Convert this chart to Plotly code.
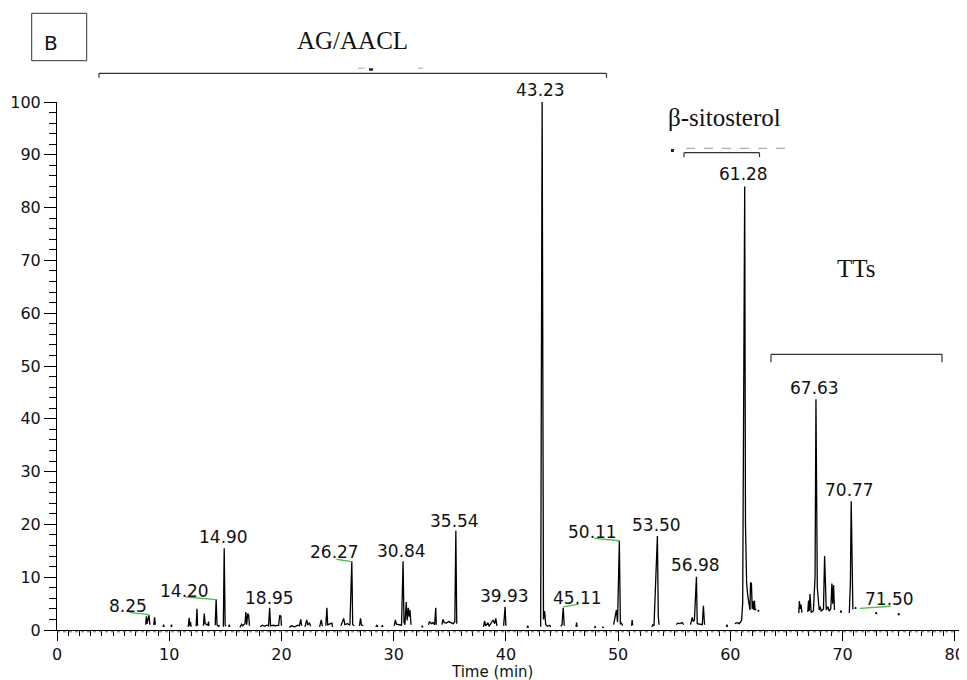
import plotly.graph_objects as go

# ---------------- data ----------------
rt_min = [
    7.90, 7.97, 8.03, 8.10, 8.20, 8.28, None,
    8.62, 8.70, 8.76, None,
    9.45, 9.50, 9.55, None,
    10.15, 10.20, 10.25, None,
    11.70, 11.78, 11.85, 11.90, 11.95, None,
    12.40, 12.47, 12.53, None,
    13.05, 13.12, 13.20, 13.45, 13.50, 13.55, None,
    14.10, 14.18, 14.26, 14.40, 14.50, None,
    14.82, 14.90, 14.98, 15.05, None,
    15.30, 15.35, 15.40, None,
    16.30, 16.45, 16.55, 16.75, 16.83, 16.90, 17.00, 17.08, 17.15, None,
    18.10, 18.30, 18.50, 18.70, 18.85, 18.95, 19.03, 19.30, 19.50, 19.75, 19.85, 19.95, 20.00, None,
    20.70, 20.90, 21.20, 21.45, 21.60, 21.72, 21.80, None,
    22.10, 22.25, 22.35, 22.50, 22.60, None,
    23.40, 23.55, 23.65, None,
    23.95, 24.05, 24.12, 24.50, 24.55, None,
    25.30, 25.45, 25.55, 25.65, 25.90, 26.10, 26.27, 26.35, 26.50, None,
    26.95, 27.05, 27.12, 27.30, None,
    28.40, 28.50, 28.60, None,
    28.90, 29.00, 29.05, None,
    30.05, 30.15, 30.25, 30.40, 30.70, 30.84, 30.92, 31.00, 31.12, 31.20, 31.30, 31.38, 31.45, 31.55, None,
    32.50, 32.55, 32.60, None,
    33.10, 33.20, 33.35, 33.50, 33.65, 33.75, 33.80, None,
    34.30, 34.40, 34.50, 34.70, 34.90, 35.10, 35.30, 35.45, 35.54, 35.62, None,
    38.00, 38.10, 38.20, 38.40, 38.50, 38.70, 38.85, 39.00, 39.10, 39.20, None,
    39.80, 39.93, 40.00, None,
    41.90, 41.95, 42.00, None,
    43.10, 43.23, 43.35, 43.45, 43.55, 43.70, 43.90, 44.00, None,
    44.90, 45.00, 45.11, 45.20, None,
    46.25, 46.30, 46.35, None,
    47.90, 47.95, 48.00, None,
    48.60, 48.65, 48.70, None,
    49.60, 49.75, 49.85, 49.95, 50.11, 50.20, 50.30, 50.40, None,
    51.20, 51.25, 51.30, None,
    53.00, 53.10, 53.20, 53.50, 53.58, 53.65, None,
    55.20, 55.30, 55.50, 55.70, 55.85, None,
    56.45, 56.60, 56.70, 56.80, 56.98, 57.05, 57.50, 57.60, 57.70, None,
    59.65, 59.70, 59.75, None,
    60.40, 60.60, 60.80, 61.00, 61.10, 61.18, 61.22, 61.28, 61.35, 61.45, 61.55, 61.65, 61.75, 61.80, 61.88, 61.95, 62.00, 62.08, 62.15, 62.20, 62.30, None,
    62.45, 62.50, 62.55, None,
    66.10, 66.15, 66.22, 66.30, 66.38, None,
    66.90, 66.97, 67.03, 67.10, 67.20, 67.40, 67.55, 67.63, 67.75, 67.85, 67.92, 68.00, 68.10, 68.20, 68.30, 68.40, 68.48, 68.55, 68.70, 68.80, 68.95, 69.05, 69.12, 69.20, 69.28, None,
    69.80, 69.85, 69.90, None,
    70.60, 70.70, 70.77, 70.85, 70.92, None,
    71.12, 71.16, 71.20, None,
    72.95, 73.00, 73.05, None,
    74.95, 75.00, 75.05,
]

rel_abundance = [
    1.0, 2.6, 1.2, 1.8, 2.8, 1.0, None,
    0.9, 2.4, 1.0, None,
    0.6, 1.0, 0.6, None,
    0.6, 1.0, 0.6, None,
    0.6, 2.3, 0.8, 1.5, 0.6, None,
    0.7, 4.0, 0.8, None,
    0.8, 3.1, 1.2, 0.9, 1.6, 0.8, None,
    0.9, 5.8, 1.0, 0.7, 0.9, None,
    0.6, 15.5, 1.0, 0.7, None,
    0.6, 1.0, 0.6, None,
    0.5, 1.1, 0.8, 1.2, 3.4, 1.0, 3.1, 2.8, 0.8, None,
    0.6, 0.9, 0.7, 0.9, 0.8, 4.2, 0.8, 0.9, 0.8, 0.9, 2.8, 2.6, 0.8, None,
    0.5, 0.8, 0.6, 0.9, 0.8, 2.0, 0.8, None,
    0.6, 1.9, 1.0, 1.3, 0.7, None,
    0.6, 1.9, 0.7, None,
    0.8, 4.2, 1.0, 1.3, 0.6, None,
    0.8, 1.8, 2.2, 1.0, 1.2, 0.9, 13.0, 1.0, 0.8, None,
    0.8, 2.2, 1.0, 0.8, None,
    0.6, 0.9, 0.6, None,
    0.6, 0.8, 0.6, None,
    0.8, 1.9, 1.1, 1.0, 0.9, 13.0, 1.5, 1.0, 5.3, 1.8, 4.2, 2.5, 3.8, 1.0, None,
    0.5, 0.8, 0.5, None,
    1.0, 1.6, 1.2, 1.4, 1.0, 4.2, 1.0, None,
    1.0, 2.0, 1.4, 1.3, 1.6, 1.4, 1.2, 1.5, 18.8, 1.2, None,
    0.6, 1.7, 0.8, 1.4, 0.7, 1.3, 1.9, 1.2, 2.2, 0.8, None,
    0.8, 4.4, 0.8, None,
    0.4, 0.8, 0.4, None,
    0.6, 100.0, 2.0, 3.6, 1.0, 0.7, 0.9, 0.6, None,
    0.7, 1.0, 4.2, 0.8, None,
    0.6, 1.4, 0.6, None,
    0.4, 0.7, 0.4, None,
    0.4, 0.6, 0.4, None,
    1.0, 3.2, 3.8, 1.5, 16.9, 1.2, 1.3, 0.8, None,
    0.8, 1.9, 0.9, None,
    0.6, 1.0, 0.9, 17.8, 2.6, 1.0, None,
    1.0, 1.3, 1.2, 1.4, 1.0, None,
    1.0, 2.4, 1.6, 1.9, 10.1, 1.2, 1.0, 4.6, 1.0, None,
    0.6, 1.0, 0.6, None,
    1.2, 1.4, 1.2, 1.8, 5.0, 55.0, 45.0, 84.0, 20.0, 9.0, 6.5, 4.5, 3.8, 9.0, 8.8, 4.0, 5.5, 3.8, 5.6, 3.8, 4.0, None,
    3.5, 3.8, 3.5, None,
    3.2, 5.5, 4.0, 4.8, 3.3, None,
    3.4, 5.6, 3.6, 6.8, 3.3, 3.6, 10.0, 43.7, 8.0, 4.5, 3.8, 4.4, 3.6, 3.8, 4.0, 14.0, 5.0, 3.8, 4.4, 3.6, 4.0, 8.8, 5.0, 8.5, 3.8, None,
    3.3, 3.7, 3.3, None,
    3.2, 9.0, 24.4, 9.5, 3.9, None,
    4.0, 4.3, 4.0, None,
    3.0, 3.4, 3.0, None,
    2.8, 3.2, 2.8,
]
assert len(rt_min) == len(rel_abundance)

# labelled peaks (retention time labels)
label_rt = [8.25, 14.20, 14.90, 18.95, 26.27, 30.84, 35.54, 39.93, 43.23,
            45.11, 50.11, 53.50, 56.98, 61.28, 67.63, 70.77, 71.50]

group_names = ["AG/AACL", "β-sitosterol", "TTs"]

x_ticks = [0, 10, 20, 30, 40, 50, 60, 70, 80]
y_ticks = [0, 10, 20, 30, 40, 50, 60, 70, 80, 90, 100]

# ---------------- layout / styling ----------------
# the page body has an 8px margin, so the figure is sized/offset to compensate
BODY = 8
W, H = 959, 672
ML, MR, MT, MB = 49, 1, 94, 50
PW, PH = W - ML - MR, H - MT - MB          # 909 x 528
X0_PAGE, Y0_PAGE = BODY + ML, BODY + H - MB  # page pixel of plot-area left / bottom


def px2x(px):
    return (px - X0_PAGE) / PW


def py2y(py):
    return (Y0_PAGE - py) / PH


# label centres (data units) for each labelled peak
label_pos = [(6.33, 4.5), (11.38, 7.45), (14.8, 17.6), (18.96, 6.1), (24.75, 14.7),
             (30.7, 15.0), (35.45, 20.7), (39.9, 6.4), (43.1, None), (46.35, 6.1),
             (47.7, 18.6), (53.4, 19.8), (56.9, 12.3), (61.2, 86.3), (67.5, 45.8),
             (70.65, 26.5), (74.2, 5.8)]

# green leader lines (data units)
leaders = [((6.45, 3.35), (8.2, 2.9)), ((11.47, 6.25), (14.2, 5.75)),
           ((24.9, 13.4), (26.24, 12.95)), ((45.1, 4.4), (46.5, 4.9)),
           ((47.86, 17.35), (50.09, 16.9)), ((71.54, 4.1), (74.28, 4.5))]

NUM_FONT = dict(family="DejaVu Sans, Arial, sans-serif", size=17, color="#111111")
TICK_FONT = dict(family="DejaVu Sans, Arial, sans-serif", size=16, color="#111111")
SERIF_FONT = dict(family="Liberation Serif, Times New Roman, serif", size=25, color="#111111")

fig = go.Figure()
fig.add_trace(go.Scatter(
    x=rt_min, y=rel_abundance, mode="lines",
    line=dict(color="black", width=1.3),
    connectgaps=False, hoverinfo="skip", showlegend=False,
))

annotations = []
for rt, (lx, ly) in zip(label_rt, label_pos):
    if ly is None:
        annotations.append(dict(x=lx, y=100, xref="x", yref="y", text=f"{rt:.2f}",
                                showarrow=False, font=NUM_FONT, xanchor="center",
                                yanchor="bottom", yshift=0))
    else:
        annotations.append(dict(x=lx, y=ly, xref="x", yref="y", text=f"{rt:.2f}",
                                showarrow=False, font=NUM_FONT, xanchor="center",
                                yanchor="middle"))

# group titles
annotations.append(dict(x=px2x(352), y=py2y(40), xref="paper", yref="paper",
                        text=group_names[0], showarrow=False, font=SERIF_FONT,
                        xanchor="center", yanchor="middle"))
annotations.append(dict(x=px2x(724), y=py2y(118), xref="paper", yref="paper",
                        text=group_names[1], showarrow=False, font=SERIF_FONT,
                        xanchor="center", yanchor="middle"))
annotations.append(dict(x=px2x(856), y=py2y(268), xref="paper", yref="paper",
                        text=group_names[2], showarrow=False, font=SERIF_FONT,
                        xanchor="center", yanchor="middle"))
# panel letter
annotations.append(dict(x=px2x(51), y=py2y(43), xref="paper", yref="paper",
                        text="B", showarrow=False,
                        font=dict(family="DejaVu Sans, Arial, sans-serif", size=20, color="#111111"),
                        xanchor="center", yanchor="middle"))
# axis title
annotations.append(dict(x=px2x(492), y=py2y(672), xref="paper", yref="paper",
                        text="Time (min)", showarrow=False,
                        font=dict(family="DejaVu Sans, Arial, sans-serif", size=15, color="#111111"),
                        xanchor="center", yanchor="middle"))

shapes = []
for (x0, y0), (x1, y1) in leaders:
    shapes.append(dict(type="line", xref="x", yref="y", x0=x0, y0=y0, x1=x1, y1=y1,
                       line=dict(color="#4dbb4d", width=1.3)))


def bracket(xa, xb, yy, drop):
    out = [dict(type="line", xref="paper", yref="paper", x0=px2x(xa), x1=px2x(xb),
                y0=py2y(yy), y1=py2y(yy), line=dict(color="#333333", width=1.2))]
    for xe in (xa, xb):
        out.append(dict(type="line", xref="paper", yref="paper", x0=px2x(xe), x1=px2x(xe),
                        y0=py2y(yy), y1=py2y(yy + drop), line=dict(color="#333333", width=1.2)))
    return out


shapes += bracket(99, 606.5, 73.3, 4.5)
shapes += bracket(684, 759.5, 152.7, 4.5)
shapes += bracket(771, 942, 354.3, 8)

# remnant marks of covered text
for xa, xb, yy, col, w in [(358, 365, 68.3, "#bbbbbb", 1.2), (369, 373, 69.5, "#222222", 2.5),
                           (418, 423, 68.3, "#bbbbbb", 1.2), (671, 674, 150.5, "#222222", 3)]:
    shapes.append(dict(type="line", xref="paper", yref="paper", x0=px2x(xa), x1=px2x(xb),
                       y0=py2y(yy), y1=py2y(yy), line=dict(color=col, width=w)))
shapes.append(dict(type="line", xref="paper", yref="paper", x0=px2x(686), x1=px2x(794),
                   y0=py2y(148.3), y1=py2y(148.3),
                   line=dict(color="#999999", width=1, dash="dash")))

# panel box
shapes.append(dict(type="rect", xref="paper", yref="paper", x0=px2x(31.7), x1=px2x(86.7),
                   y0=py2y(60.7), y1=py2y(13.3), line=dict(color="#333333", width=1)))

# dotted baseline just beneath the axis
shapes.append(dict(type="line", xref="paper", yref="paper", x0=0, x1=px2x(957),
                   y0=py2y(631.8), y1=py2y(631.8),
                   line=dict(color="#666666", width=1, dash="dot")))

fig.update_layout(
    width=W, height=H,
    margin=dict(l=ML, r=MR, t=MT, b=MB, pad=0),
    paper_bgcolor="white", plot_bgcolor="white",
    showlegend=False,
    annotations=annotations,
    shapes=shapes,
    font=TICK_FONT,
)

fig.update_xaxes(
    range=[0, 81], tickvals=x_ticks, ticktext=[str(v) for v in x_ticks],
    showgrid=False, zeroline=False,
    showline=True, linecolor="black", linewidth=1,
    ticks="outside", ticklen=10, tickwidth=1, tickcolor="black",
    minor=dict(dtick=1, tick0=0, ticks="outside", ticklen=5, tickwidth=1, tickcolor="black", showgrid=False),
    tickfont=TICK_FONT, automargin=False,
)
fig.update_yaxes(
    range=[0, 100], tickvals=y_ticks, ticktext=[str(v) for v in y_ticks],
    showgrid=False, zeroline=False,
    showline=True, linecolor="black", linewidth=1,
    ticks="outside", ticklen=12, tickwidth=1, tickcolor="black",
    minor=dict(dtick=2, tick0=0, ticks="outside", ticklen=7, tickwidth=1, tickcolor="black", showgrid=False),
    tickfont=TICK_FONT, automargin=False,
)

fig.write_html("out.html")
